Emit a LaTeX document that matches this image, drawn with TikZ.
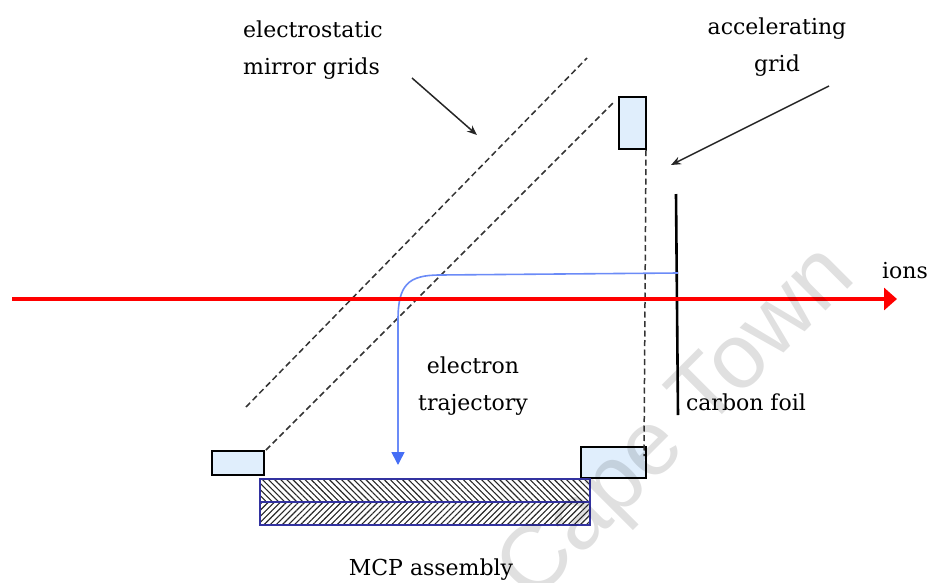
\documentclass[tikz,border=0pt]{standalone}
\usepackage{fontspec}
\setmainfont{DejaVu Serif}
\setsansfont{Liberation Sans}
\usetikzlibrary{arrows.meta,patterns.meta}
\definecolor{boxblue}{RGB}{224,238,252}
\definecolor{trajblue}{RGB}{70,110,245}
\definecolor{mcpblue}{RGB}{50,50,160}
\tikzset{
  label/.style={align=center, font=\fontsize{22}{37}\selectfont, inner sep=0pt},
  holder/.style={draw=black, line width=1.3pt, fill=boxblue, inner sep=0pt, minimum width=#1},
  grid/.style={dash pattern=on 6pt off 3.5pt, line width=1.5pt, black!80},
  pointer/.style={-{Stealth[length=10pt,width=8pt]}, line width=1.5pt, black!85},
  plate/.style={draw=mcpblue, line width=1.2pt, minimum width=330pt, minimum height=23pt, inner sep=0pt}
}
\begin{document}
\begin{tikzpicture}[x=1pt,y=-1pt]
  \useasboundingbox (0,0) rectangle (930,582);
  % labels
  \node[label, align=left, anchor=west] (mirror) at (243,50) {electrostatic\\mirror grids};
  \node[label] (accel) at (777,47) {accelerating\\grid};
  \node[label] (ions) at (905,271) {ions};
  \node[label] (traj) at (473,386) {electron\\trajectory};
  \node[label] (foillabel) at (746,402) {carbon foil};
  \node[label] (mcplabel) at (431,570) {MCP assembly};
  % holders
  \node[holder=52pt, minimum height=24pt] (left) at (238,463) {};
  \node[holder=65pt, minimum height=31pt] (right) at (613.5,462.5) {};
  \node[holder=27pt, minimum height=52pt] (top) at (632.5,123) {};
  % grids
  \coordinate (g1a) at (246,407);
  \coordinate (g1b) at (587,58);
  \coordinate (g2a) at (266,450);
  \coordinate (g2b) at (615,101);
  \coordinate (g3a) at (646,150);
  \coordinate (g3b) at (644,456);
  \draw[grid] (g1a) -- (g1b);
  \draw[grid] (g2a) -- (g2b);
  \draw[grid] (g3a) -- (g3b);
  % mcp
  \node[plate, pattern={Lines[angle=-45,distance=4.3pt,line width=1.1pt]}, pattern color=black!85] (mcpa) at (425,490.5) {};
  \node[plate, pattern={Lines[angle=45,distance=4.3pt,line width=1.1pt]}, pattern color=black!85] (mcpb) at (425,513.5) {};
  % foil
  \coordinate (f1) at (676,194);
  \coordinate (f2) at (678,415);
  \draw[line width=2.6pt] (f1) -- (f2);
  % trajectory
  \coordinate (t1) at (678,273);
  \coordinate (t2) at (398,465);
  \draw[trajblue!80, line width=1.6pt, -{Triangle[length=13pt,width=13pt,color=trajblue]}]
    (t1) -- (440,275) .. controls (408,275) and (398,285) .. (398,320) -- (t2);
  % ions beam
  \coordinate (b1) at (12,299);
  \coordinate (b2) at (897,299);
  \draw[red, line width=4.5pt, -{Triangle[length=13pt,width=22pt]}] (b1) -- (b2);
  % pointers
  \coordinate (p1) at (412,78);
  \coordinate (p2) at (477,135);
  \coordinate (p3) at (829,86);
  \coordinate (p4) at (671,165);
  \draw[pointer] (p1) -- (p2);
  \draw[pointer] (p3) -- (p4);
  % watermark
  \node[rotate=45, anchor=base east, opacity=.12, font=\fontsize{92}{92}\sffamily, inner sep=0pt] (mark) at (858,279) {Cape Town};
\end{tikzpicture}
\end{document}
